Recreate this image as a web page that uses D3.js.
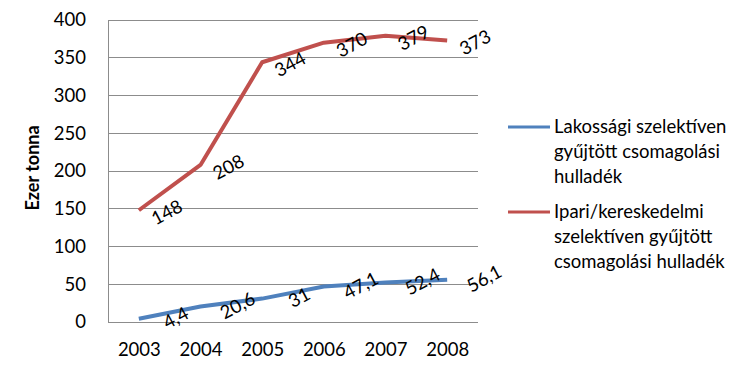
<!DOCTYPE html>
<html><head><meta charset="utf-8">
<script src="https://cdn.jsdelivr.net/npm/d3@7/dist/d3.min.js"></script>
<style>
body{margin:0;background:#fff;}
svg{display:block;font-family:Lato,"Open Sans",sans-serif;}
</style></head>
<body><svg id="c" width="742" height="382"></svg>
<script>
const years = ["2003","2004","2005","2006","2007","2008"];
const lakossagi = [4.4, 20.6, 31, 47.1, 52.4, 56.1];
const ipari = [148, 208, 344, 370, 379, 373];
const yTicks = [0, 50, 100, 150, 200, 250, 300, 350, 400];
const seriesNames = ["Lakossági szelektíven gyűjtött csomagolási hulladék", "Ipari/kereskedelmi szelektíven gyűjtött csomagolási hulladék"];
const legendLines = [["Lakossági szelektíven","gyűjtött csomagolási","hulladék"],["Ipari/kereskedelmi","szelektíven gyűjtött","csomagolási hulladék"]];
const colors = ["#4F81BD", "#C0504D"];

(function(){
const svg = d3.select("#c");
const FS = 18.5;
const pl = 108, pr = 478, pt = 20, pb = 322;
const x = d3.scalePoint().domain(years).range([pl, pr]).padding(0.5);
const y = d3.scaleLinear().domain([0, 400]).range([pb, pt]);
const loc = d3.formatLocale({decimal: ",", thousands: " ", grouping: [3], currency: ["", ""]});
const fmt = v => loc.format("~g")(v);

svg.append("g").selectAll("line").data(yTicks).join("line")
  .attr("x1", pl).attr("x2", pr)
  .attr("y1", d => y(d)).attr("y2", d => y(d))
  .attr("stroke", "#8c8c8c").attr("stroke-width", 1).attr("shape-rendering", "crispEdges");

const ya = svg.append("g").attr("transform", `translate(${pl},0)`)
  .call(d3.axisLeft(y).tickValues(yTicks).tickSize(0).tickPadding(22));
ya.select(".domain").attr("stroke", "#8c8c8c").attr("shape-rendering", "crispEdges");
ya.selectAll("text").attr("font-size", FS).attr("fill", "#000").attr("font-family", "Lato, sans-serif");

const xa = svg.append("g").attr("transform", `translate(0,${pb})`)
  .call(d3.axisBottom(x).tickSize(0).tickPadding(21));
xa.select(".domain").remove();
xa.selectAll("text").attr("font-size", FS).attr("fill", "#000").attr("font-family", "Lato, sans-serif");

svg.append("text").attr("transform", `translate(33,168) rotate(-90)`)
  .attr("text-anchor", "middle").attr("dy", "0.35em").attr("font-size", 18).attr("font-weight", "bold")
  .attr("font-family", "Lato, sans-serif").text("Ezer tonna");

const series = [lakossagi, ipari];
const line = d3.line().x((d, i) => x(years[i])).y(d => y(d));
const offsets = [[37, -1], [28, 2]];
series.forEach((s, k) => {
  svg.append("path").datum(s).attr("d", line).attr("fill", "none")
    .attr("stroke", colors[k]).attr("stroke-width", 4).attr("stroke-linejoin", "round");
});
series.forEach((s, k) => {
  svg.append("g").selectAll("text").data(s).join("text")
    .attr("transform", (d, i) => `translate(${x(years[i]) + offsets[k][0]},${y(d) + offsets[k][1]}) rotate(-28)`)
    .attr("text-anchor", "middle").attr("dy", "0.35em")
    .attr("font-size", FS).attr("font-family", "Lato, sans-serif").attr("fill", "#000")
    .text(d => fmt(d));
});

const lg = svg.append("g");
legendLines.forEach((lines, k) => {
  const y0 = 127 + k * 85;
  lg.append("line").attr("x1", 508).attr("x2", 550).attr("y1", y0).attr("y2", y0)
    .attr("stroke", colors[k]).attr("stroke-width", 3);
  lines.forEach((t, j) => {
    lg.append("text").attr("x", 554).attr("y", y0 + j * 25).attr("dy", "0.35em")
      .attr("font-size", FS).attr("font-family", "Lato, sans-serif").attr("fill", "#000").text(t);
  });
});
})();
</script></body></html>
